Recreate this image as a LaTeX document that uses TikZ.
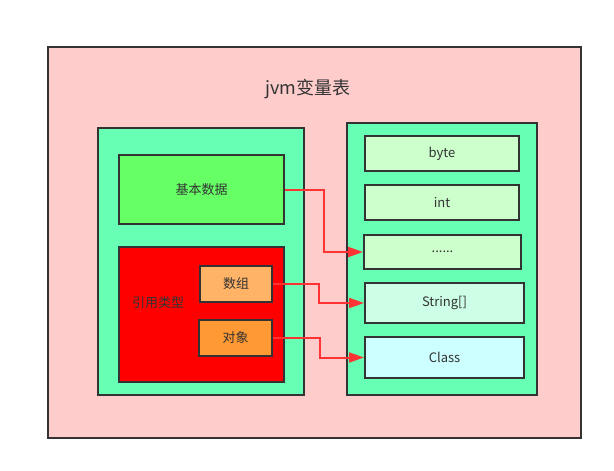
\documentclass[tikz,border=0pt]{standalone}
\usepackage{fontspec}
\setmainfont{Noto Sans CJK SC}
\usepackage{tikz}
\usetikzlibrary{arrows.meta,positioning,calc}
\definecolor{framecolor}{RGB}{51,51,51}
\definecolor{pinkbg}{RGB}{255,204,204}
\definecolor{greenbg}{RGB}{102,255,179}
\definecolor{basiccolor}{RGB}{102,255,102}
\definecolor{refcolor}{RGB}{255,0,0}
\definecolor{arrcolor}{RGB}{255,179,102}
\definecolor{objcolor}{RGB}{255,153,51}
\definecolor{slotcolor}{RGB}{204,255,204}
\definecolor{strcolor}{RGB}{204,255,230}
\definecolor{clscolor}{RGB}{204,255,255}
\definecolor{linkcolor}{RGB}{255,51,51}

\begin{document}
\begin{tikzpicture}[x=1pt,y=-1pt,
    box/.style={draw=framecolor, line width=2pt, inner sep=0pt, text=framecolor, font=\fontsize{13}{15}\selectfont},
    link/.style={draw=linkcolor, line width=2pt, -{Triangle[length=15pt,width=10pt]}}]
    \useasboundingbox (0,0) rectangle (614,471);
    % outer frame and title
    \node[box, fill=pinkbg, minimum width=533pt, minimum height=391pt] (table) at (314.5,242.5) {};
    \node[text=framecolor, font=\fontsize{18}{20}\selectfont] (title) at (308,89) {jvm变量表};
    % left side: kinds of variables
    \node[box, fill=greenbg, minimum width=206pt, minimum height=267pt] (kinds) at (201,261.5) {};
    \node[box, fill=basiccolor, minimum width=165pt, minimum height=69pt] (basic) at (201.5,189.5) {基本数据};
    \node[box, fill=refcolor, minimum width=165pt, minimum height=135pt] (ref) at (201.5,314.5) {};
    \node[text=framecolor, font=\fontsize{13}{15}\selectfont] (reflabel) at (158,303) {引用类型};
    \node[box, fill=arrcolor, minimum width=72pt, minimum height=36pt] (arr) at (236,284) {数组};
    \node[box, fill=objcolor, minimum width=73pt, minimum height=36pt] (obj) at (235.5,338) {对象};
    % right side: slots
    \node[box, fill=greenbg, minimum width=190pt, minimum height=272pt] (slots) at (442,259) {};
    \node[box, fill=slotcolor, minimum width=154pt, minimum height=35pt] (byte) at (442,153.5) {byte};
    \node[box, fill=slotcolor, minimum width=154pt, minimum height=35pt] (int) at (442,202.5) {int};
    \node[box, fill=slotcolor, minimum width=157pt, minimum height=34pt] (dots) at (442.5,252) {......};
    \node[box, fill=strcolor, minimum width=159pt, minimum height=40pt] (str) at (444.5,303) {String[]};
    \node[box, fill=clscolor, minimum width=159pt, minimum height=41pt] (cls) at (444.5,357.5) {Class};
    % connectors
    \draw[link] (basic.east) -- ++(39,0) |- (dots.west);
    \draw[link] (arr.east) -- ++(46,0) |- (str.west);
    \draw[link] (obj.east) -- ++(47,0) |- (cls.west);
\end{tikzpicture}
\end{document}
